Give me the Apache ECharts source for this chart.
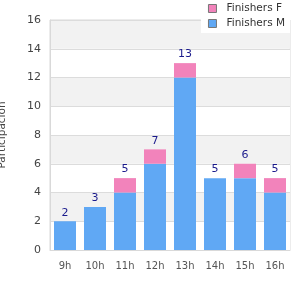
<!DOCTYPE html>
<html>
<head>
<meta charset="utf-8">
<script src="https://cdn.jsdelivr.net/npm/echarts@6/dist/echarts.min.js"></script>
<style>
  html, body { margin: 0; padding: 0; background: #fff; }
  #chart { width: 300px; height: 300px; }
</style>
</head>
<body>
<div id="chart"></div>
<script>
var horas = ["9h", "10h", "11h", "12h", "13h", "14h", "15h", "16h"];
var finishersM = [2, 3, 4, 6, 12, 5, 5, 4];
var finishersF = [0, 0, 1, 1, 1, 0, 1, 1];

var totales = horas.map(function (h, i) {
  return finishersM[i] + finishersF[i];
});

var chart = echarts.init(document.getElementById("chart"));
chart.setOption({
  animation: false,
  textStyle: { fontFamily: "DejaVu Sans" },
  grid: {
    left: 50, right: 10, top: 20, bottom: 50,
    outerBoundsMode: "none",
    containLabel: false,
    show: true, borderColor: "#d9d9d9", borderWidth: 1
  },
  legend: {
    data: ["Finishers F", "Finishers M"],
    orient: "vertical",
    right: 10,
    top: 0,
    padding: [3, 5, 4, 7],
    itemGap: 4,
    icon: "rect",
    itemWidth: 8,
    itemHeight: 8,
    backgroundColor: "#fff",
    itemStyle: { borderColor: "#777", borderWidth: 1 },
    textStyle: { fontSize: 10.5, color: "#333", padding: [0, 0, 0, 5] }
  },
  xAxis: {
    type: "category",
    data: horas,
    axisTick: { show: false },
    axisLine: { lineStyle: { color: "#d9d9d9" } },
    axisLabel: { fontSize: 10, color: "#555", margin: 11 }
  },
  yAxis: {
    type: "value",
    min: 0,
    max: 16,
    interval: 2,
    name: "Participación",
    nameLocation: "middle",
    nameGap: 42,
    nameTextStyle: { fontSize: 10.5, color: "#444" },
    axisLine: { show: true, lineStyle: { color: "#d9d9d9" } },
    axisTick: { show: false },
    axisLabel: { fontSize: 11, color: "#444", margin: 9 },
    splitLine: { lineStyle: { color: "#dcdcdc" } },
    splitArea: { show: true, areaStyle: { color: ["#ffffff", "#f2f2f2"] } }
  },
  series: [
    {
      name: "Finishers M",
      type: "bar",
      stack: "total",
      barWidth: 22,
      itemStyle: { color: "#60a8f4" },
      data: finishersM
    },
    {
      name: "Finishers F",
      type: "bar",
      stack: "total",
      barWidth: 22,
      itemStyle: { color: "#f283bb" },
      label: {
        show: true,
        position: "top",
        distance: 3,
        fontSize: 11,
        color: "#1a1a8c",
        formatter: function (p) {
          return totales[p.dataIndex];
        }
      },
      data: finishersF
    }
  ]
});
</script>
</body>
</html>
